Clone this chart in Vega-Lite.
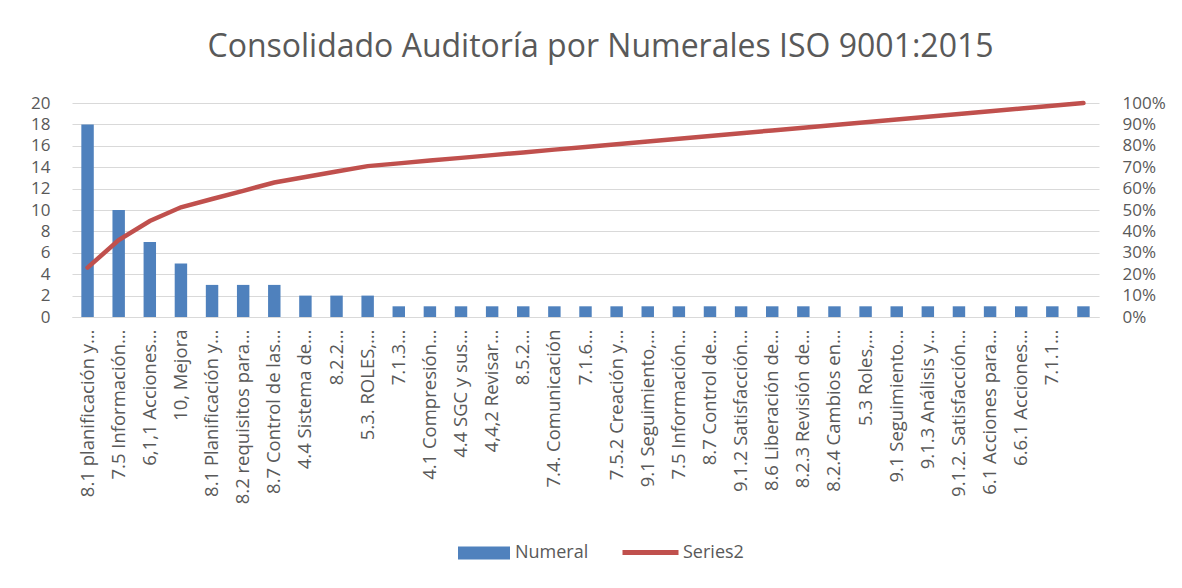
{
  "$schema": "https://vega.github.io/schema/vega-lite/v6.json",
  "width": 1027,
  "height": 214,
  "autosize": "none",
  "padding": {"left": 72, "top": 103, "right": 83, "bottom": 271},
  "background": "white",
  "title": {
    "text": "Consolidado Auditoría por Numerales ISO 9001:2015",
    "font": "Open Sans",
    "fontSize": 32,
    "fontWeight": "normal",
    "color": "#595959",
    "baseline": "alphabetic",
    "offset": 5,
    "dx": 15
  },
  "data": {
    "values": [
      {"key": "01|8.1 planificación y…", "count": 18, "pct": 0.2308},
      {"key": "02|7.5 Información…", "count": 10, "pct": 0.3590},
      {"key": "03|6,1,1 Acciones…", "count": 7, "pct": 0.4487},
      {"key": "04|10, Mejora", "count": 5, "pct": 0.5128},
      {"key": "05|8.1  Planificación y…", "count": 3, "pct": 0.5513},
      {"key": "06|8.2 requisitos para…", "count": 3, "pct": 0.5897},
      {"key": "07|8.7 Control de las…", "count": 3, "pct": 0.6282},
      {"key": "08|4.4 Sistema de…", "count": 2, "pct": 0.6538},
      {"key": "09|8.2.2…", "count": 2, "pct": 0.6795},
      {"key": "10|5.3. ROLES,…", "count": 2, "pct": 0.7051},
      {"key": "11|7.1.3…", "count": 1, "pct": 0.7179},
      {"key": "12|4.1 Compresión…", "count": 1, "pct": 0.7308},
      {"key": "13|4.4 SGC y sus…", "count": 1, "pct": 0.7436},
      {"key": "14|4,4,2 Revisar…", "count": 1, "pct": 0.7564},
      {"key": "15|8.5.2…", "count": 1, "pct": 0.7692},
      {"key": "16|7.4. Comunicación", "count": 1, "pct": 0.7821},
      {"key": "17|7.1.6…", "count": 1, "pct": 0.7949},
      {"key": "18|7.5.2 Creación y…", "count": 1, "pct": 0.8077},
      {"key": "19|9.1 Seguimiento,…", "count": 1, "pct": 0.8205},
      {"key": "20|7.5 Información…", "count": 1, "pct": 0.8333},
      {"key": "21|8.7 Control de…", "count": 1, "pct": 0.8462},
      {"key": "22|9.1.2 Satisfacción…", "count": 1, "pct": 0.8590},
      {"key": "23|8.6 Liberación de…", "count": 1, "pct": 0.8718},
      {"key": "24|8.2.3 Revisión de…", "count": 1, "pct": 0.8846},
      {"key": "25|8.2.4 Cambios en…", "count": 1, "pct": 0.8974},
      {"key": "26|5.3 Roles,…", "count": 1, "pct": 0.9103},
      {"key": "27|9.1 Seguimiento…", "count": 1, "pct": 0.9231},
      {"key": "28|9.1.3 Análisis y…", "count": 1, "pct": 0.9359},
      {"key": "29|9.1.2. Satisfacción…", "count": 1, "pct": 0.9487},
      {"key": "30|6.1 Acciones para…", "count": 1, "pct": 0.9615},
      {"key": "31|6.6.1 Acciones…", "count": 1, "pct": 0.9744},
      {"key": "32|7.1.1…", "count": 1, "pct": 0.9872},
      {"key": "33|", "count": 1, "pct": 1.0}
    ]
  },
  "encoding": {
    "x": {
      "field": "key",
      "type": "ordinal",
      "sort": "ascending",
      "scale": {"paddingInner": 0.6, "paddingOuter": 0.3},
      "axis": {
        "title": null,
        "labelExpr": "split(datum.label, '|')[1]",
        "labelAngle": -90,
        "labelFont": "Open Sans",
        "labelFontSize": 18.5,
        "labelColor": "#595959",
        "labelPadding": 12,
        "labelLimit": 0,
        "ticks": false,
        "domainColor": "#D9D9D9",
        "domainWidth": 1
      }
    }
  },
  "layer": [
    {
      "mark": {"type": "bar"},
      "encoding": {
        "y": {
          "field": "count",
          "type": "quantitative",
          "scale": {"domain": [0, 20]},
          "axis": {
            "title": null,
            "values": [0, 2, 4, 6, 8, 10, 12, 14, 16, 18, 20],
            "labelFont": "Open Sans",
            "labelFontSize": 17,
            "labelColor": "#595959",
            "labelPadding": 22,
            "ticks": false,
            "domain": false,
            "grid": true,
            "gridColor": "#D9D9D9",
            "gridWidth": 1
          }
        },
        "color": {
          "datum": "Numeral",
          "type": "nominal",
          "scale": {"domain": ["Numeral"], "range": ["#4F81BD"]},
          "legend": {
            "title": null,
            "orient": "none",
            "legendX": 385,
            "legendY": 423,
            "symbolType": "M-1,-0.25H1V0.25H-1Z",
            "symbolSize": 2704,
            "symbolOpacity": 1,
            "labelFont": "Open Sans",
            "labelFontSize": 18,
            "labelColor": "#595959",
            "labelOffset": 4
          }
        }
      }
    },
    {
      "mark": {"type": "line", "strokeWidth": 4.5, "strokeCap": "round"},
      "encoding": {
        "y": {
          "field": "pct",
          "type": "quantitative",
          "scale": {"domain": [0, 1]},
          "axis": {
            "title": null,
            "orient": "right",
            "format": ".0%",
            "values": [0, 0.1, 0.2, 0.3, 0.4, 0.5, 0.6, 0.7, 0.8, 0.9, 1.0],
            "labelFont": "Open Sans",
            "labelFontSize": 17,
            "labelColor": "#595959",
            "labelPadding": 23,
            "ticks": false,
            "domain": false,
            "grid": false
          }
        },
        "color": {
          "datum": "Series2",
          "type": "nominal",
          "scale": {"domain": ["Series2"], "range": ["#C0504D"]},
          "legend": {
            "title": null,
            "orient": "none",
            "legendX": 548,
            "legendY": 419,
            "symbolType": "stroke",
            "symbolSize": 3136,
            "symbolStrokeWidth": 5,
            "labelFont": "Open Sans",
            "labelFontSize": 18,
            "labelColor": "#595959",
            "labelOffset": 2
          }
        }
      }
    }
  ],
  "resolve": {"scale": {"y": "independent", "color": "independent"}},
  "config": {"view": {"stroke": null}}
}
